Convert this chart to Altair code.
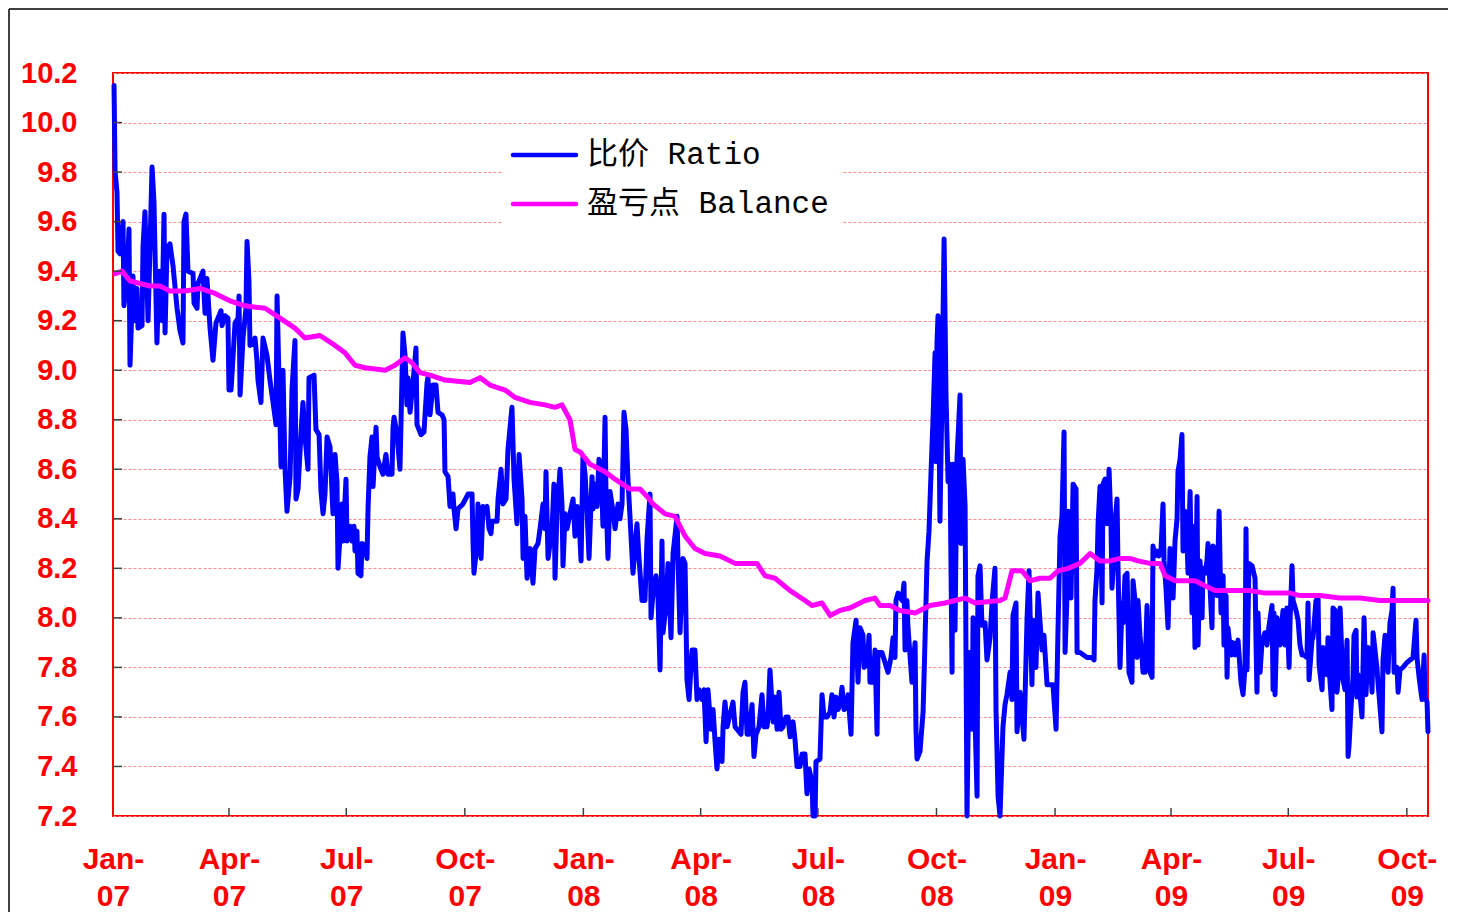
import altair as alt
import pandas as pd

# ---------------- data ----------------
SERIES = ["比价 Ratio", "盈亏点 Balance"]
COLORS = ["#0000ff", "#ff00ff"]

# days after 2007-01-01, ratio values
ratio_days = [
    0.8, 1.6, 3.1, 3.9, 5.4, 7.8, 8.5, 10.9, 12.4, 13.2,
    15.5, 16.3, 18.6, 19.4, 22.5, 23.3, 24.8, 27.2, 30.3, 31.8,
    34.1, 35.7, 38.0, 39.6, 40.4, 41.9, 44.2, 46.6, 49.7, 52.0,
    54.3, 55.1, 56.6, 58.2, 62.1, 62.9, 65.2, 66.0, 69.8, 71.4,
    72.9, 75.3, 77.6, 79.9, 83.8, 84.6, 86.9, 89.2, 90.0, 91.6,
    94.7, 97.0, 97.8, 98.6, 100.9, 103.2, 104.0, 105.5, 106.3, 108.6,
    110.2, 111.7, 112.5, 114.8, 116.4, 119.5, 121.8, 124.2, 126.5, 127.3,
    130.4, 131.9, 133.5, 135.0, 137.4, 138.9, 141.2, 142.0, 143.6, 145.9,
    147.4, 149.0, 151.3, 152.1, 156.0, 157.5, 159.9, 161.4, 163.0, 164.5,
    166.1, 168.4, 170.7, 172.3, 173.8, 174.6, 177.7, 178.5, 180.8, 181.6,
    183.9, 185.5, 187.0, 187.8, 189.3, 190.1, 192.4, 193.2, 195.6, 197.1,
    197.9, 199.4, 201.0, 201.8, 204.1, 204.9, 207.2, 209.5, 211.8, 213.4,
    216.5, 217.3, 218.1, 220.4, 222.7, 225.0, 226.6, 228.1, 228.9, 230.5,
    232.8, 235.1, 235.9, 239.0, 241.3, 243.7, 244.4, 246.0, 248.3, 250.6,
    252.2, 255.3, 256.9, 257.6, 260.0, 261.5, 263.8, 264.6, 266.2, 267.7,
    271.6, 275.5, 278.6, 279.4, 280.1, 282.5, 283.2, 285.6, 287.1, 288.7,
    290.2, 291.8, 293.3, 294.1, 298.0, 298.8, 301.1, 302.6, 305.0, 306.5,
    309.6, 311.2, 313.5, 315.1, 317.4, 318.2, 319.7, 321.3, 323.6, 325.9,
    327.5, 329.8, 331.4, 333.7, 335.2, 336.0, 337.6, 340.7, 342.2, 343.0,
    344.5, 346.9, 348.4, 349.2, 350.8, 352.3, 354.6, 357.0, 358.5, 360.1,
    361.6, 363.2, 364.7, 366.3, 367.8, 369.4, 371.7, 372.5, 374.0, 375.6,
    377.1, 378.7, 380.2, 381.8, 382.6, 384.1, 385.7, 388.0, 389.6, 391.9,
    393.4, 395.0, 396.5, 398.1, 399.6, 402.7, 403.5, 406.6, 408.2, 410.5,
    412.8, 414.4, 416.7, 417.5, 419.0, 421.4, 422.9, 424.5, 426.0, 426.8,
    429.1, 430.7, 433.0, 434.6, 437.7, 438.4, 440.0, 442.3, 443.9, 445.4,
    447.0, 449.3, 451.6, 453.2, 454.7, 457.1, 458.6, 460.2, 461.7, 464.0,
    465.6, 467.2, 468.7, 470.3, 472.6, 473.4, 474.9, 476.5, 478.8, 481.1,
    482.7, 484.2, 487.3, 488.9, 490.4, 492.0, 493.5, 495.9, 497.4, 499.0,
    501.3, 503.6, 505.2, 507.5, 508.3, 509.8, 512.2, 513.7, 515.3, 516.8,
    518.4, 519.9, 522.2, 523.8, 525.4, 527.7, 529.2, 530.8, 533.1, 534.7,
    537.0, 538.5, 540.1, 542.4, 543.2, 544.8, 545.5, 548.6, 550.2, 551.7,
    554.1, 556.4, 557.9, 559.5, 561.0, 562.6, 564.2, 565.7, 567.3, 569.6,
    570.4, 572.7, 574.2, 576.6, 578.1, 579.7, 582.0, 582.8, 585.1, 586.7,
    587.4, 589.8, 591.3, 592.9, 593.6, 596.7, 599.1, 601.4, 603.7, 605.3,
    606.8, 607.6, 609.2, 612.3, 613.8, 614.6, 616.1, 616.9, 620.0, 622.4,
    623.1, 623.9, 626.2, 628.6, 629.3, 631.7, 633.2, 634.8, 636.3, 637.9,
    638.6, 639.4, 640.2, 641.7, 643.3, 644.9, 646.4, 648.0, 649.5, 651.1,
    651.8, 653.4, 654.9, 657.3, 658.0, 659.6, 661.2, 662.7, 664.3, 666.6,
    667.4, 668.9, 670.5, 671.2, 672.8, 674.3, 676.7, 678.2, 680.6, 682.1,
    684.4, 685.2, 686.8, 688.3, 690.6, 692.2, 693.7, 696.1, 697.6, 698.4,
    700.7, 701.5, 703.8, 705.4, 706.9, 709.3, 710.8, 713.1, 713.9, 716.2,
    717.8, 720.9, 722.4, 724.8, 727.1, 729.4, 731.8, 733.3, 734.9, 736.4,
    738.0, 738.8, 740.3, 741.1, 743.4, 745.0, 747.3, 748.1, 750.4, 755.8,
    759.7, 761.3, 762.0, 763.6, 764.4, 765.9, 767.5, 768.2, 769.8, 771.3,
    772.1, 772.9, 774.4, 775.2, 776.0, 777.6, 779.1, 779.9, 781.4, 783.0,
    783.8, 785.3, 786.9, 788.4, 790.7, 791.5, 793.1, 794.6, 795.4, 796.9,
    798.5, 799.3, 800.8, 802.4, 803.2, 804.7, 806.3, 807.0, 808.6, 810.1,
    811.7, 813.2, 814.8, 815.6, 817.1, 818.7, 820.2, 821.8, 822.6, 824.1,
    825.7, 826.4, 828.0, 829.5, 830.3, 831.9, 833.4, 834.2, 835.8, 837.3,
    838.1, 839.6, 841.2, 842.0, 843.5, 845.1, 845.8, 847.4, 848.9, 849.7,
    851.3, 852.8, 853.6, 855.2, 856.7, 858.3, 859.8, 861.4, 862.1, 863.7,
    864.5, 865.2, 867.6, 869.1, 870.7, 873.0, 875.3, 876.9, 878.4, 879.2,
    880.0, 881.5, 883.9, 886.2, 887.0, 887.7, 888.5, 890.1, 891.6, 893.9,
    895.5, 897.1, 899.4, 900.2, 900.9, 901.7, 903.3, 904.0, 905.6, 907.9,
    909.5, 911.0, 912.6, 913.4, 914.9, 915.7, 918.0, 919.6, 921.1, 922.7,
    924.2, 926.5, 927.3, 928.1, 930.4, 931.2, 933.5, 935.1, 935.9, 938.2,
    939.0, 940.5, 942.1, 942.8, 944.4, 945.9, 946.7, 948.3, 949.8, 950.6,
    952.2, 953.7, 954.5, 956.0, 957.6, 958.4, 959.1, 960.7, 962.2, 963.0,
    964.6, 965.3, 966.1, 967.7, 969.2, 970.0, 970.8, 972.3, 973.9, 975.4,
    977.0, 977.8, 979.3, 980.9, 981.6, 983.2, 984.7, 985.5, 987.1, 988.6,
    989.4, 990.9, 992.5, 993.3, 994.1, 996.4, 997.2, 998.7, 1001.0, 1004.1,
    1006.5, 1008.8, 1011.1, 1011.9, 1013.5, 1015.8, 1017.4, 1018.1, 1019.7, 1020.4,
]
ratio_vals = [
    10.15, 9.80, 9.72, 9.48, 9.47, 9.60, 9.26, 9.38, 9.57, 9.02,
    9.38, 9.20, 9.33, 9.17, 9.18, 9.50, 9.64, 9.20, 9.82, 9.68,
    9.11, 9.40, 9.20, 9.63, 9.15, 9.49, 9.51, 9.42, 9.25, 9.16,
    9.11, 9.60, 9.63, 9.40, 9.39, 9.27, 9.25, 9.35, 9.40, 9.23,
    9.37, 9.17, 9.04, 9.19, 9.24, 9.18, 9.22, 9.21, 8.92, 8.92,
    9.19, 9.21, 9.30, 8.90, 9.13, 9.25, 9.52, 9.36, 9.10, 9.11,
    9.13, 9.04, 8.96, 8.87, 9.13, 9.06, 8.96, 8.87, 8.78, 9.30,
    8.61, 9.00, 8.60, 8.43, 8.57, 8.92, 9.12, 8.48, 8.52, 8.75,
    8.87, 8.73, 8.60, 8.97, 8.98, 8.76, 8.74, 8.51, 8.42, 8.50,
    8.73, 8.69, 8.42, 8.66, 8.55, 8.20, 8.46, 8.31, 8.56, 8.31,
    8.37, 8.31, 8.37, 8.27, 8.35, 8.18, 8.17, 8.30, 8.29, 8.24,
    8.44, 8.65, 8.73, 8.53, 8.77, 8.65, 8.61, 8.58, 8.66, 8.58,
    8.58, 8.77, 8.81, 8.74, 8.60, 9.15, 9.06, 8.86, 8.97, 8.83,
    8.95, 9.09, 8.78, 8.74, 8.75, 8.95, 8.97, 8.82, 8.94, 8.94,
    8.83, 8.82, 8.80, 8.59, 8.57, 8.45, 8.50, 8.44, 8.36, 8.44,
    8.46, 8.50, 8.50, 8.30, 8.18, 8.30, 8.46, 8.24, 8.45, 8.44,
    8.45, 8.36, 8.34, 8.39, 8.39, 8.48, 8.60, 8.46, 8.48, 8.68,
    8.85, 8.56, 8.38, 8.66, 8.48, 8.24, 8.41, 8.16, 8.28, 8.14,
    8.28, 8.30, 8.36, 8.46, 8.36, 8.59, 8.24, 8.36, 8.54, 8.16,
    8.42, 8.60, 8.46, 8.21, 8.42, 8.36, 8.42, 8.48, 8.33, 8.45,
    8.40, 8.23, 8.65, 8.58, 8.44, 8.24, 8.57, 8.44, 8.54, 8.45,
    8.64, 8.62, 8.37, 8.81, 8.48, 8.24, 8.51, 8.43, 8.36, 8.46,
    8.40, 8.46, 8.83, 8.76, 8.56, 8.26, 8.18, 8.38, 8.24, 8.07,
    8.07, 8.32, 8.50, 8.00, 8.10, 8.17, 8.08, 7.79, 8.31, 7.94,
    8.05, 8.22, 7.92, 8.26, 8.41, 8.24, 7.94, 8.24, 8.22, 7.75,
    7.67, 7.87, 7.87, 7.67, 7.71, 7.67, 7.71, 7.50, 7.71, 7.55,
    7.63, 7.50, 7.39, 7.51, 7.42, 7.56, 7.66, 7.56, 7.61, 7.66,
    7.56, 7.55, 7.53, 7.70, 7.74, 7.53, 7.53, 7.65, 7.44, 7.53,
    7.56, 7.69, 7.56, 7.56, 7.60, 7.79, 7.58, 7.68, 7.55, 7.70,
    7.55, 7.56, 7.60, 7.60, 7.52, 7.58, 7.51, 7.40, 7.40, 7.45,
    7.45, 7.29, 7.39, 7.34, 7.20, 7.20, 7.42, 7.43, 7.69, 7.60,
    7.60, 7.62, 7.69, 7.60, 7.68, 7.63, 7.65, 7.72, 7.63, 7.64,
    7.69, 7.53, 7.90, 7.99, 7.74, 7.96, 7.93, 7.80, 7.81, 7.93,
    7.74, 7.74, 7.87, 7.53, 7.86, 7.86, 7.82, 7.78, 7.84, 7.92,
    7.84, 8.07, 8.10, 8.07, 8.14, 7.87, 8.07, 7.96, 7.74, 7.90,
    7.55, 7.43, 7.46, 7.62, 7.75, 8.23, 8.35, 8.59, 8.80, 9.07,
    8.63, 9.11, 9.22, 8.39, 8.90, 9.53, 8.90, 8.55, 8.62, 7.78,
    8.62, 7.95, 8.64, 8.90, 8.30, 8.64, 8.45, 7.20, 7.86, 7.55,
    8.00, 7.60, 7.28, 8.17, 8.21, 7.97, 7.98, 7.83, 7.92, 8.06,
    8.20, 7.63, 7.28, 7.20, 7.56, 7.65, 7.69, 7.78, 7.67, 8.01,
    8.06, 7.54, 7.70, 7.60, 7.51, 8.00, 8.19, 7.73, 7.99, 7.80,
    8.10, 7.87, 7.93, 7.73, 7.73, 7.73, 7.55, 7.95, 8.33, 8.41,
    8.75, 7.86, 8.09, 8.43, 8.08, 8.54, 8.52, 7.86, 7.86, 7.84,
    7.84, 7.83, 8.07, 8.20, 8.38, 8.53, 8.06, 8.54, 8.56, 8.38,
    8.40, 8.60, 8.38, 8.12, 8.19, 8.39, 8.48, 8.20, 7.80, 8.06,
    7.98, 8.17, 8.18, 7.78, 7.74, 8.15, 8.07, 7.84, 8.07, 7.93,
    7.84, 7.78, 7.78, 8.05, 7.93, 7.78, 7.76, 8.29, 8.25, 8.27,
    8.25, 8.27, 8.46, 8.23, 8.12, 7.96, 8.28, 8.17, 8.08, 8.31,
    8.40, 8.59, 8.64, 8.74, 8.27, 8.43, 8.31, 8.18, 8.51, 8.02,
    8.37, 7.88, 8.49, 7.89, 8.23, 8.00, 8.20, 8.18, 8.23, 8.30,
    8.12, 7.96, 8.29, 8.27, 8.09, 8.43, 8.02, 8.17, 7.89, 8.09,
    7.76, 7.96, 7.85, 7.90, 7.85, 7.91, 7.74, 7.69, 7.80, 8.36,
    7.79, 8.22, 8.21, 8.16, 7.89, 7.70, 8.02, 7.78, 7.90, 7.94,
    7.89, 7.97, 8.05, 7.71, 8.02, 7.69, 8.00, 7.97, 7.89, 8.03,
    7.89, 8.04, 7.80, 7.99, 8.21, 8.07, 8.03, 7.99, 7.89, 7.85,
    7.85, 7.84, 8.06, 7.75, 7.91, 7.92, 8.07, 8.08, 7.81, 7.71,
    7.88, 7.86, 7.77, 7.92, 7.74, 7.63, 8.04, 8.03, 7.70, 7.75,
    8.04, 7.83, 7.75, 7.71, 7.91, 7.44, 7.48, 7.64, 7.76, 7.93,
    7.95, 7.68, 7.77, 7.69, 7.60, 7.80, 8.00, 7.69, 7.88, 7.85,
    7.70, 7.94, 7.87, 7.79, 7.74, 7.64, 7.54, 7.83, 7.93, 7.88,
    7.78, 7.98, 8.03, 8.12, 7.78, 7.80, 7.70, 7.79, 7.80, 7.82,
    7.83, 7.84, 7.99, 7.84, 7.76, 7.67, 7.85, 7.68, 7.66, 7.54,
]

balance_days = [
    1.6, 7.0, 13.2, 28.7, 36.5, 44.2, 55.9, 67.5, 79.2, 90.8,
    102.4, 118.0, 129.6, 141.2, 149.0, 160.6, 172.3, 180.0, 187.8, 195.6,
    211.1, 218.8, 226.6, 232.0, 238.2, 246.0, 257.6, 277.0, 284.8, 292.6,
    304.2, 312.0, 323.6, 335.2, 343.0, 348.4, 354.6, 358.5, 362.4, 370.2,
    377.9, 381.8, 389.6, 401.2, 408.9, 414.4, 419.0, 428.4, 436.1, 440.0,
    443.9, 451.6, 459.4, 471.0, 482.7, 494.3, 499.7, 505.9, 513.7, 525.4,
    537.0, 542.4, 550.2, 556.4, 564.2, 571.9, 583.6, 591.3, 595.2, 603.0,
    610.7, 622.4, 630.1, 634.0, 645.6, 653.4, 661.2, 668.9, 688.3, 692.2,
    697.6, 705.4, 711.6, 719.4, 727.1, 733.3, 741.1, 750.4, 758.2, 765.9,
    773.7, 781.4, 789.2, 795.4, 804.7, 812.5, 816.4, 824.1, 839.6, 847.4,
    855.2, 870.7, 882.3, 893.9, 905.6, 913.4, 921.1, 936.6, 952.2, 967.7,
    983.2, 1020.4,
]
balance_vals = [
    9.39, 9.40, 9.36, 9.34, 9.34, 9.32, 9.32, 9.33, 9.31, 9.28,
    9.26, 9.25, 9.21, 9.17, 9.13, 9.14, 9.10, 9.07, 9.02, 9.01,
    9.00, 9.02, 9.05, 9.03, 8.99, 8.98, 8.96, 8.95, 8.97, 8.94,
    8.92, 8.89, 8.87, 8.86, 8.85, 8.86, 8.80, 8.68, 8.67, 8.62,
    8.60, 8.59, 8.56, 8.52, 8.52, 8.49, 8.46, 8.42, 8.41, 8.37,
    8.33, 8.28, 8.26, 8.25, 8.22, 8.22, 8.22, 8.17, 8.16, 8.11,
    8.07, 8.05, 8.06, 8.01, 8.03, 8.04, 8.07, 8.08, 8.05, 8.05,
    8.03, 8.02, 8.04, 8.05, 8.06, 8.07, 8.08, 8.06, 8.07, 8.08,
    8.19, 8.19, 8.15, 8.16, 8.16, 8.19, 8.20, 8.22, 8.26, 8.23,
    8.23, 8.24, 8.24, 8.23, 8.22, 8.22, 8.17, 8.15, 8.15, 8.13,
    8.11, 8.11, 8.11, 8.10, 8.10, 8.10, 8.09, 8.09, 8.08, 8.08,
    8.07, 8.07,
]

tick_dates = ["2007-04-01", "2007-07-01", "2007-10-01", "2008-01-01", "2008-04-01",
              "2008-07-01", "2008-10-01", "2009-01-01", "2009-04-01", "2009-07-01",
              "2009-10-01"]
label_dates = ["2007-01-01"] + tick_dates
y_ticks = [7.2, 7.4, 7.6, 7.8, 8.0, 8.2, 8.4, 8.6, 8.8, 9.0, 9.2, 9.4, 9.6, 9.8, 10.0, 10.2]

# ---------------- build table ----------------
base = pd.Timestamp("2007-01-01")


def to_date(d):
    return (base + pd.Timedelta(days=d)).strftime("%Y-%m-%dT%H:%M:%S")


rows = []
for d, v in zip(ratio_days, ratio_vals):
    rows.append({"date": to_date(d), "value": v, "series": SERIES[0]})
for d, v in zip(balance_days, balance_vals):
    rows.append({"date": to_date(d), "value": v, "series": SERIES[1]})
df = pd.DataFrame(rows)

W, H = 1315, 743
RED = "#ff0000"

x_scale = alt.Scale(domain=[alt.DateTime(year=2007, month=1, date=1),
                            alt.DateTime(year=2009, month=10, date=17, hours=10)])
y_scale = alt.Scale(domain=[7.2, 10.2], nice=False, zero=False)

label_vals = [alt.DateTime(year=int(s[:4]), month=int(s[5:7]), date=1) for s in label_dates]

x_axis = alt.Axis(
    values=label_vals,
    labelExpr="[timeFormat(datum.value, '%b') + '-', timeFormat(datum.value, '%y')]",
    ticks=False, domain=False, grid=False, title=None,
    labelColor=RED, labelFont="Liberation Sans", labelFontWeight="bold",
    labelFontSize=30, labelPadding=28, labelLineHeight=37,
    labelAlign="center", labelOverlap=False, labelFlush=False,
)
y_axis = alt.Axis(
    values=y_ticks, format=".1f", ticks=False, domain=False, title=None,
    labelColor=RED, labelFont="Liberation Sans", labelFontWeight="bold",
    labelFontSize=29, labelPadding=36, labelBaseline="middle",
    grid=True, gridColor="#ff8c8c", gridDash=[3, 2], gridWidth=1,
)

X = alt.X("date:T", scale=x_scale, axis=x_axis, title=None)
Y = alt.Y("value:Q", scale=y_scale, axis=y_axis, title=None)
color_scale = alt.Scale(domain=SERIES, range=COLORS)

ratio_line = alt.Chart(df[df.series == SERIES[0]]).mark_line(
    strokeWidth=5, strokeJoin="round", strokeCap="round"
).encode(
    x=X, y=Y,
    color=alt.Color("series:N", scale=color_scale, legend=None),
)
balance_line = alt.Chart(df[df.series == SERIES[1]]).mark_line(
    strokeWidth=5, strokeJoin="round", strokeCap="round"
).encode(
    x=X, y=Y,
    color=alt.Color("series:N", scale=color_scale, legend=None),
)

# inward tick marks
xt_df = pd.DataFrame({"date": [d + "T00:00:00" for d in tick_dates]})
x_ticks_layer = alt.Chart(xt_df).mark_rule(color="#404040", strokeWidth=1.5).encode(
    x=X, y=alt.value(H - 8), y2=alt.value(H),
)
yt_df = pd.DataFrame({"value": y_ticks[1:-1]})
y_ticks_layer = alt.Chart(yt_df).mark_rule(color="#404040", strokeWidth=1.5).encode(
    y=Y, x=alt.value(0), x2=alt.value(9),
)

# legend box (drawn manually)
one = pd.DataFrame({"a": [0]})
leg_bg = alt.Chart(one).mark_rect(fill="white").encode(
    x=alt.value(389), x2=alt.value(728), y=alt.value(63), y2=alt.value(156)
)
leg_layers = [leg_bg]
for i, (name, col) in enumerate(zip(SERIES, COLORS)):
    yy = 82 + 49 * i
    leg_layers.append(
        alt.Chart(one).mark_rule(color=col, strokeWidth=4.5, strokeCap="round").encode(
            x=alt.value(400), x2=alt.value(463), y=alt.value(yy)
        )
    )
    leg_layers.append(
        alt.Chart(one).mark_text(
            align="left", baseline="middle", font="Liberation Mono, Noto Sans CJK SC",
            fontSize=31, color="#000000", text=name,
        ).encode(x=alt.value(474), y=alt.value(yy))
    )

# outer frame lines
frame_top = alt.Chart(one).mark_rule(color="black", strokeWidth=1.5).encode(
    x=alt.value(-104), x2=alt.value(W + 200), y=alt.value(-64)
)
frame_left = alt.Chart(one).mark_rule(color="black", strokeWidth=1.5).encode(
    x=alt.value(-104), y=alt.value(-64), y2=alt.value(H + 300)
)

chart = alt.layer(
    ratio_line, *leg_layers, balance_line, x_ticks_layer, y_ticks_layer, frame_top, frame_left
).properties(
    width=W, height=H,
    autosize=alt.AutoSizeParams(type="none"),
    padding={"left": 105, "top": 65, "right": 20, "bottom": 96},
    background="white",
).configure_view(
    stroke=RED, strokeWidth=2
)

chart.save("out.html", embed_options={"renderer": "svg", "actions": False})
